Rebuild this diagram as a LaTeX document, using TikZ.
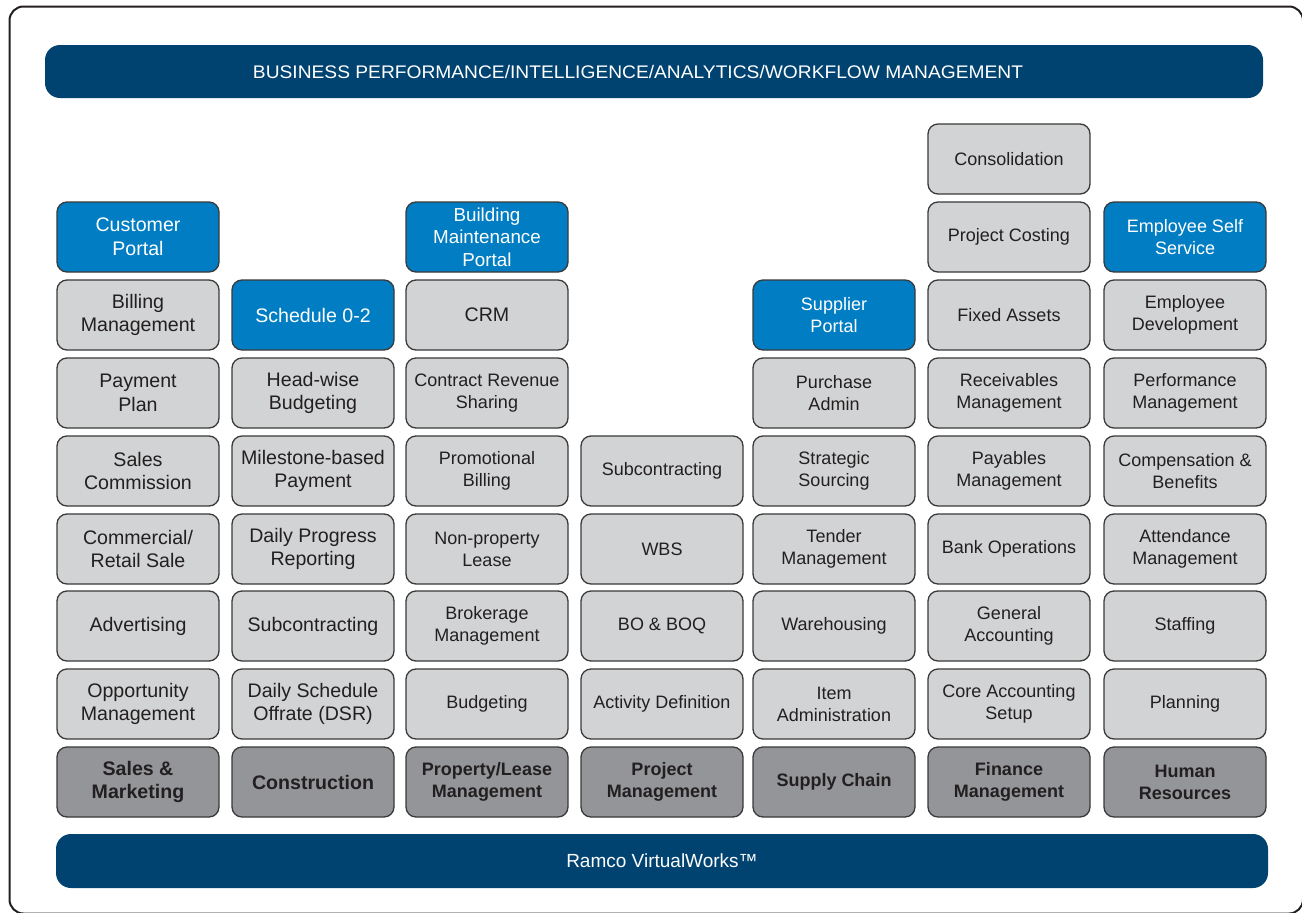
\documentclass[tikz,border=0pt]{standalone}
\usepackage{fontspec}
\setmainfont{Liberation Sans}
\definecolor{navy}{HTML}{004270}
\definecolor{bluebx}{HTML}{007DC3}
\definecolor{lgray}{HTML}{D1D3D4}
\definecolor{dgray}{HTML}{939598}
\definecolor{txt}{HTML}{231F20}
\definecolor{edge}{HTML}{3A3A3A}
\newcommand\fL{\fontsize{19.6}{23.8}\selectfont}
\newcommand\fS{\fontsize{18}{22}\selectfont}
\newcommand\fM{\fontsize{18.8}{22.6}\selectfont}
\tikzset{
  base/.style={rectangle, rounded corners=10pt, minimum width=162pt, minimum height=70pt,
    inner sep=0pt, align=center, draw=edge, line width=1.3pt},
  gbox/.style={base, fill=lgray, text=txt, font=\fS},
  gboxL/.style={gbox, font=\fL},
  bbox/.style={base, fill=bluebx, text=white, font=\fS},
  bboxL/.style={bbox, font=\fL},
  hbox/.style={base, fill=dgray, text=txt, font=\fS\bfseries},
  hboxL/.style={hbox, font=\fL\bfseries},
  banner/.style={rectangle, rounded corners=15pt, fill=navy, text=white, inner sep=0pt}
}
\begin{document}
\begin{tikzpicture}[x=1pt,y=-1pt]
\useasboundingbox (0,0) rectangle (1302,913);
\fill[white] (0,0) rectangle (1302,913);
\draw[line width=2pt, color=txt, rounded corners=14pt] (9.5,6.5) rectangle (1303,913.5);

\node[banner, minimum width=1218pt, minimum height=53pt] (top) at (654,71.5)
  {\resizebox{770pt}{13.2pt}{\fontsize{18}{18}\selectfont BUSINESS PERFORMANCE/INTELLIGENCE/ANALYTICS/WORKFLOW MANAGEMENT}\hspace*{32pt}};
\node[banner, minimum width=1212pt, minimum height=54pt, font=\fontsize{19}{19}\selectfont] (bot) at (662,861)
  {Ramco VirtualWorks™};

% Column 1
\node[bboxL] (c1a) at (138,237) {Customer\\Portal};
\node[gboxL] (c1b) at (138,315) {Billing\\Management};
\node[gboxL] (c1c) at (138,393) {Payment\\Plan};
\node[gboxL] (c1d) at (138,471) {Sales\\Commission};
\node[gboxL] (c1e) at (138,549) {Commercial/\\Retail Sale};
\node[gboxL] (c1f) at (138,626) {Advertising};
\node[gboxL] (c1g) at (138,704) {Opportunity\\Management};
\node[hboxL] (c1h) at (138,782) {Sales \&\\Marketing};

% Column 2
\node[bboxL] (c2a) at (313,315) {Schedule 0-2};
\node[gboxL] (c2b) at (313,393) {Head-wise\\Budgeting};
\node[gboxL] (c2c) at (313,471) {Milestone-based\\Payment};
\node[gboxL] (c2d) at (313,549) {Daily Progress\\Reporting};
\node[gboxL] (c2e) at (313,626) {Subcontracting};
\node[gboxL] (c2f) at (313,704) {Daily Schedule\\Offrate (DSR)};
\node[hboxL] (c2g) at (313,782) {Construction};

% Column 3
\node[bbox, font=\fM] (c3a) at (487,237) {Building\\Maintenance\\Portal};
\node[gboxL] (c3b) at (487,315) {CRM};
\node[gbox] (c3c) at (487,393) {Contract Revenue\\Sharing};
\node[gbox] (c3d) at (487,471) {Promotional\\Billing};
\node[gbox] (c3e) at (487,549) {Non-property\\Lease};
\node[gbox] (c3f) at (487,626) {Brokerage\\Management};
\node[gbox] (c3g) at (487,704) {Budgeting};
\node[hbox] (c3h) at (487,782) {Property/Lease\\Management};

% Column 4
\node[gbox] (c4a) at (662,471) {Subcontracting};
\node[gbox] (c4b) at (662,549) {WBS};
\node[gbox] (c4c) at (662,626) {BO \& BOQ};
\node[gbox] (c4d) at (662,704) {Activity Definition};
\node[hbox] (c4e) at (662,782) {Project\\Management};

% Column 5
\node[bbox] (c5a) at (834,315) {Supplier\\Portal};
\node[gbox] (c5b) at (834,393) {Purchase\\Admin};
\node[gbox] (c5c) at (834,471) {Strategic\\Sourcing};
\node[gbox] (c5d) at (834,549) {Tender\\Management};
\node[gbox] (c5e) at (834,626) {Warehousing};
\node[gbox] (c5f) at (834,704) {Item\\Administration};
\node[hbox] (c5g) at (834,782) {Supply Chain};

% Column 6
\node[gbox] (c6a) at (1009,159) {Consolidation};
\node[gbox] (c6b) at (1009,237) {Project Costing};
\node[gbox] (c6c) at (1009,315) {Fixed Assets};
\node[gbox] (c6d) at (1009,393) {Receivables\\Management};
\node[gbox] (c6e) at (1009,471) {Payables\\Management};
\node[gbox] (c6f) at (1009,549) {Bank Operations};
\node[gbox] (c6g) at (1009,626) {General\\Accounting};
\node[gbox] (c6h) at (1009,704) {Core Accounting\\Setup};
\node[hbox] (c6i) at (1009,782) {Finance\\Management};

% Column 7
\node[bbox] (c7a) at (1185,237) {Employee Self\\Service};
\node[gbox] (c7b) at (1185,315) {Employee\\Development};
\node[gbox] (c7c) at (1185,393) {Performance\\Management};
\node[gbox] (c7d) at (1185,471) {Compensation \&\\Benefits};
\node[gbox] (c7e) at (1185,549) {Attendance\\Management};
\node[gbox] (c7f) at (1185,626) {Staffing};
\node[gbox] (c7g) at (1185,704) {Planning};
\node[hbox] (c7h) at (1185,782) {Human\\Resources};
\end{tikzpicture}
\end{document}
